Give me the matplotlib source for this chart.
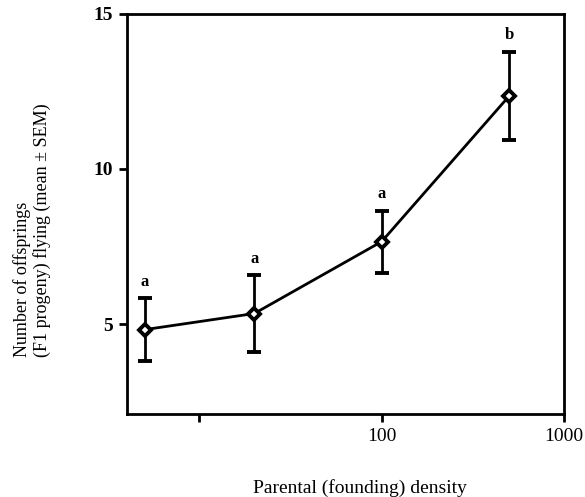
import matplotlib.pyplot as plt
import numpy as np

# Data
density = np.array([5, 20, 100, 500])          # parental (founding) density
offspring = np.array([4.82, 5.34, 7.66, 12.35])  # mean F1 progeny flying
sem = np.array([1.02, 1.24, 1.00, 1.43])
letters = ['a', 'a', 'a', 'b']

x_ticks = [10, 100, 1000]
x_ticklabels = ['', '100', '1000']
y_ticks = [5, 10, 15]
y_ticklabels = ['5', '10', '15']

plt.rcParams['font.family'] = ['Liberation Serif', 'DejaVu Serif']

fig = plt.figure(figsize=(5.85, 4.97), dpi=100)
ax = fig.add_axes([0.217, 0.167, 0.747, 0.805])

ax.errorbar(density, offspring, yerr=sem, fmt='-D', color='black', lw=2,
            elinewidth=2, capsize=5, capthick=2, markersize=6,
            markerfacecolor='white', markeredgewidth=2.8)

# significance letters above the error bars
for x, y, e, s in zip(density, offspring, sem, letters):
    ax.annotate(s, (x, y + e), xytext=(0, 6), textcoords='offset points',
                ha='center', va='bottom', fontsize=12, fontweight='bold')

ax.set_xscale('log')
ax.set_xlim(4, 1000)
ax.set_ylim(2.1, 15)
ax.set_xticks(x_ticks)
ax.set_xticklabels(x_ticklabels)
ax.xaxis.set_minor_locator(plt.NullLocator())
ax.set_yticks(y_ticks)
ax.set_yticklabels(y_ticklabels, fontweight='bold')

ax.tick_params(direction='out', length=6, width=2, labelsize=14, pad=4)
for sp in ax.spines.values():
    sp.set_linewidth(2)

ax.set_xlabel('Parental (founding) density', fontsize=14)
ax.xaxis.set_label_coords(0.533, -0.163)
fig.text(0.055, 0.537, 'Number of offsprings\n(F1 progeny) flying (mean \u00b1 SEM)',
         rotation=90, ha='center', va='center', multialignment='left', fontsize=13)

fig.savefig('out.png', dpi=100)
